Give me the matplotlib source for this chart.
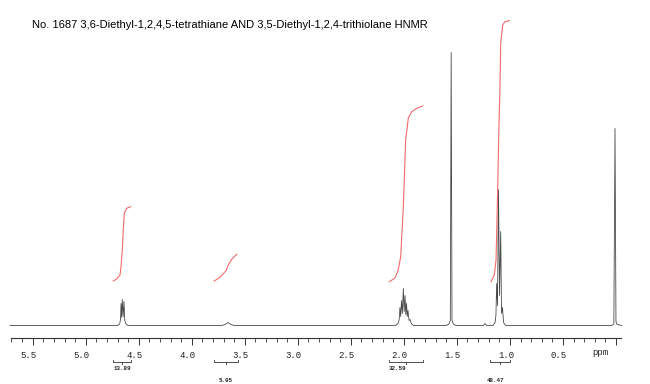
import matplotlib
matplotlib.use('Agg')
import matplotlib.pyplot as plt
from matplotlib.transforms import ScaledTranslation
import numpy as np

# spectrum trace (ppm, intensity above baseline)
spec_ppm = [5.714, 4.700, 4.680, 4.672, 4.667, 4.661, 4.655, 4.647, 4.639, 4.632, 4.620, 4.600,
            3.715, 3.687, 3.658, 3.630, 3.602,
            2.080, 2.055, 2.044, 2.037, 2.030, 2.022, 2.014, 2.005, 1.997, 1.989, 1.982, 1.975,
            1.968, 1.961, 1.951, 1.942, 1.930, 1.910,
            1.600, 1.575, 1.562, 1.554, 1.546, 1.533, 1.510,
            1.250, 1.235, 1.220,
            1.160, 1.140, 1.132, 1.125, 1.117, 1.108, 1.098, 1.087, 1.079, 1.070, 1.060, 1.040,
            0.040, 0.020, 0.009, 0.000, -0.010, -0.057]
spec_int = [0, 0, 1.5, 6, 22, 8, 26, 9, 24, 5, 1.5, 0,
            0, 1, 3, 1, 0,
            0, 2, 6, 18, 9, 25, 12, 37, 14, 30, 11, 22,
            9, 15, 5, 6, 2, 0,
            0, 1.5, 5, 273, 5, 1.5, 0,
            0, 2, 0,
            0, 3, 10, 42, 20, 136, 30, 94, 12, 18, 3, 0,
            0, 1.5, 197, 4, 1, 0]

# integral curves
int1_ppm = [4.740, 4.708, 4.677, 4.667, 4.655, 4.646, 4.636, 4.614, 4.576]
int1_val = [44.5, 46.5, 50.5, 58.8, 75.5, 95.5, 112.2, 117.2, 118.8]
int2_ppm = [3.788, 3.734, 3.677, 3.656, 3.624, 3.576]
int2_val = [44.5, 48.2, 54.8, 60.5, 66.2, 71.2]
int3_ppm = [2.137, 2.084, 2.053, 2.030, 2.005, 1.983, 1.958, 1.926, 1.879, 1.823]
int3_val = [43.8, 47.5, 55.5, 68.8, 118.8, 185.5, 207.5, 213.8, 217.2, 219.5]
int4_ppm = [1.178, 1.147, 1.131, 1.119, 1.103, 1.094, 1.087, 1.068, 1.047, 1.006]
int4_val = [43.8, 50.5, 65.5, 118.8, 202.5, 235.5, 282.5, 300.5, 303.8, 304.8]

# integral brackets below the axis
region_start = [4.743, 3.788, 2.140, 1.188]
region_end = [4.573, 3.564, 1.820, 1.000]
region_label = ['13.89', '5.05', '32.59', '48.47']
label_ppm = [4.650, 3.677, 2.060, 1.140]

major_ticks = [0.0, 0.5, 1.0, 1.5, 2.0, 2.5, 3.0, 3.5, 4.0, 4.5, 5.0, 5.5]
major_labels = ['', '0.5', '1.0', '1.5', '2.0', '2.5', '3.0', '3.5', '4.0', '4.5', '5.0', '5.5']

title = 'No. 1687 3,6-Diethyl-1,2,4,5-tetrathiane AND 3,5-Diethyl-1,2,4-trithiolane HNMR'

fig = plt.figure(figsize=(6.5, 3.84), dpi=100)
ax = fig.add_axes([0, 0, 1, 1])
ax.set_xlim(5.8083, -0.3209)
ax.set_ylim(-58.5, 325.5)

ax.plot(spec_ppm, spec_int, color='#4a4a4a', lw=0.6)

red = '#f56a6a'
for xp, yv in [(int1_ppm, int1_val), (int2_ppm, int2_val),
               (int3_ppm, int3_val), (int4_ppm, int4_val)]:
    ax.plot(xp, yv, color=red, lw=0.8)

# brackets
for i, (a, b) in enumerate(zip(region_start, region_end)):
    mid = (a + b) / 2
    ax.plot([a, a, b, b], [-34.5, -36.5, -36.5, -34.5], color='#333333', lw=0.6)
    ax.plot([mid, mid], [-36.5, -38.5], color='#333333', lw=0.6)
    ly = -43.5 if i % 2 == 0 else -54.5
    ax.text(label_ppm[i], ly, region_label[i], ha='center', va='center',
            fontsize=4.2, family='Liberation Mono', weight='bold', color='#222222')

# ppm axis
for s in ['top', 'left', 'right']:
    ax.spines[s].set_visible(False)
ax.spines['bottom'].set_position(('data', -12.5))
ax.spines['bottom'].set_bounds(-0.05, 5.7)
ax.spines['bottom'].set_color('#333333')
ax.spines['bottom'].set_linewidth(0.8)
ax.set_yticks([])
ax.set_xticks(major_ticks)
ax.set_xticklabels(major_labels)
ax.set_xticks(np.round(np.arange(0.0, 5.71, 0.1), 1), minor=True)
ax.tick_params(axis='x', which='major', direction='out', length=5, width=0.7,
               color='#333333', pad=4, labelsize=6.5, labelcolor='#222222')
ax.tick_params(axis='x', which='minor', direction='out', length=3, width=0.6,
               color='#333333')
for lab in ax.get_xticklabels():
    lab.set_family('Liberation Mono')
    lab.set_transform(lab.get_transform() + ScaledTranslation(-4 / 100, 0, fig.dpi_scale_trans))
ax.text(0.151, -26.8, 'ppm', ha='center', va='center', fontsize=6.5,
        family='Liberation Mono', color='#222222')

fig.text(32 / 650, 1 - 28 / 384, title, fontsize=8, family='Liberation Sans',
         va='baseline', ha='left', color='black')

fig.savefig('out.png', dpi=100)
